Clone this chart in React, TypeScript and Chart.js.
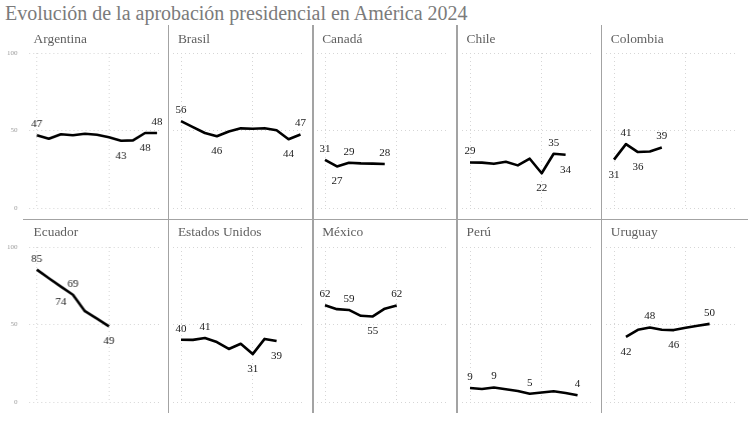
import React, { useEffect, useRef } from 'react';
import { Chart, registerables } from 'chart.js';

Chart.register(...registerables);

// ---------- data ----------
const chartTitle = 'Evolución de la aprobación presidencial en América 2024';
const months = ['ene', 'feb', 'mar', 'abr', 'may', 'jun', 'jul', 'ago', 'sep', 'oct', 'nov', 'dic'];
const gridMonths = ['ene', 'jul'];
const yTicks = [0, 50, 100];

const countries = ['Argentina', 'Brasil', 'Canadá', 'Chile', 'Colombia', 'Ecuador', 'Estados Unidos', 'México', 'Perú', 'Uruguay'];
const firstMonth = ['ene', 'ene', 'ene', 'ene', 'ene', 'ene', 'ene', 'ene', 'ene', 'feb'];

const argentina = [47, 44.7, 47.6, 46.9, 47.9, 47.3, 45.6, 43.4, 43.6, 48.4, 48.4];
const brasil = [56, 52.2, 48.4, 46.3, 49.4, 51.4, 51.1, 51.5, 50.2, 44.4, 47.4];
const canada = [31, 26.8, 29.2, 28.8, 28.6, 28.4];
const chile = [29.4, 29.3, 28.5, 29.8, 27.5, 31.8, 22.4, 35, 34.4];
const colombia = [31.2, 41.2, 36.1, 36.5, 39.1];
const ecuador = [85.4, 79.8, 74.4, 69.2, 58.6, 53.8, 48.8];
const estadosUnidos = [40.2, 40.1, 41.3, 38.7, 34.2, 37.6, 30.9, 40.7, 39.3];
const mexico = [62.4, 59.9, 59.4, 55.6, 55.2, 60.2, 62.3];
const peru = [9, 8.4, 9.4, 8.2, 7.1, 5.3, 6.1, 6.9, 5.8, 4.3];
const uruguay = [42, 46.6, 48.1, 46.6, 46.4, 47.9, 49.2, 50.4];

// labelled points: [index, side]
const argentinaMarks: [number, string][] = [[0, 'up'], [7, 'down'], [9, 'down'], [10, 'up']];
const brasilMarks: [number, string][] = [[0, 'up'], [3, 'down'], [9, 'down'], [10, 'up']];
const canadaMarks: [number, string][] = [[0, 'up'], [1, 'down'], [2, 'up'], [5, 'up']];
const chileMarks: [number, string][] = [[0, 'up'], [6, 'down'], [7, 'up'], [8, 'down']];
const colombiaMarks: [number, string][] = [[0, 'down'], [1, 'up'], [2, 'down'], [4, 'up']];
const ecuadorMarks: [number, string][] = [[0, 'up'], [2, 'down'], [3, 'up'], [6, 'down']];
const estadosUnidosMarks: [number, string][] = [[0, 'up'], [2, 'up'], [6, 'down'], [8, 'down']];
const mexicoMarks: [number, string][] = [[0, 'up'], [2, 'up'], [4, 'down'], [6, 'up']];
const peruMarks: [number, string][] = [[0, 'up'], [2, 'up'], [5, 'up'], [9, 'up']];
const uruguayMarks: [number, string][] = [[0, 'down'], [2, 'up'], [4, 'down'], [7, 'up']];

const seriesList = [argentina, brasil, canada, chile, colombia, ecuador, estadosUnidos, mexico, peru, uruguay];
const marksList = [argentinaMarks, brasilMarks, canadaMarks, chileMarks, colombiaMarks, ecuadorMarks, estadosUnidosMarks, mexicoMarks, peruMarks, uruguayMarks];

// ---------- layout ----------
const FONT = 'Georgia, "Liberation Serif", serif';
const COL_STEP = 144.3;
const JAN0 = 36.6; // x of January gridline in first column
const PX_PER_MONTH = 11.95;
const PLOT_L = 8; // px left of January
const PLOT_R = 124; // px right of January
const ROW_TOP = [53.3, 246.7]; // y of value 100
const PLOT_H = 155;
const PAD = 8;

function Panel({ idx }: { idx: number }) {
  const ref = useRef<HTMLCanvasElement | null>(null);
  const col = idx % 5;
  const row = Math.floor(idx / 5);
  const jan = JAN0 + COL_STEP * col;
  const plotLeft = jan - PLOT_L;
  const first = col === 0;
  const left = first ? 0 : plotLeft - PAD;
  const padLeft = first ? 0 : PAD;
  const yAxisW = first ? plotLeft : 0;
  const width = (first ? plotLeft : PAD) + PLOT_L + PLOT_R + PAD;
  const top = ROW_TOP[row] - PAD;
  const height = PLOT_H + 2 * PAD;

  useEffect(() => {
    if (!ref.current) return;
    const values = seriesList[idx];
    const marks = marksList[idx];
    const start = months.indexOf(firstMonth[idx]);
    const points = values.map((v, i) => ({ x: start + i, y: v }));

    const labelPlugin = {
      id: 'pointMarks',
      afterDatasetsDraw(chart: any) {
        const meta = chart.getDatasetMeta(0);
        const ctx = chart.ctx;
        ctx.save();
        ctx.font = `11px ${FONT}`;
        ctx.fillStyle = '#1a1a1a';
        ctx.textAlign = 'center';
        ctx.textBaseline = 'middle';
        marks.forEach(([i, side]) => {
          const el = meta.data[i];
          if (!el) return;
          const dy = side === 'up' ? -11 : 15;
          ctx.fillText(String(Math.round(values[i])), el.x, el.y + dy);
        });
        ctx.restore();
      },
    };

    const chart = new Chart(ref.current, {
      type: 'line',
      data: {
        datasets: [
          {
            label: countries[idx],
            data: points,
            borderColor: '#000',
            borderWidth: 2.6,
            pointRadius: 0,
            tension: 0,
            fill: false,
            borderJoinStyle: 'round',
          },
        ],
      },
      options: {
        animation: false,
        responsive: true,
        maintainAspectRatio: false,
        layout: { padding: { left: padLeft, right: PAD, top: PAD, bottom: PAD } },
        plugins: { legend: { display: false }, tooltip: { enabled: false }, title: { display: false } },
        scales: {
          x: {
            type: 'linear',
            min: -PLOT_L / PX_PER_MONTH,
            max: PLOT_R / PX_PER_MONTH,
            ticks: { display: false },
            grid: { color: '#d6d6d6', lineWidth: 1, drawTicks: false },
            border: { display: false, dash: [1, 3] },
            afterBuildTicks: (scale: any) => {
              scale.ticks = gridMonths.map((m) => ({ value: months.indexOf(m) }));
            },
            afterFit: (scale: any) => {
              scale.height = 0;
              scale.paddingLeft = 0;
              scale.paddingRight = 0;
            },
          },
          y: {
            type: 'linear',
            min: 0,
            max: 100,
            ticks: {
              display: first,
              stepSize: 50,
              padding: 11,
              color: '#9a9a9a',
              font: { size: 7, family: FONT },
            },
            grid: { color: '#d6d6d6', lineWidth: 1, drawTicks: false },
            border: { display: false, dash: [1, 3] },
            afterBuildTicks: (scale: any) => {
              scale.ticks = yTicks.map((v) => ({ value: v }));
            },
            afterFit: (scale: any) => {
              scale.width = yAxisW;
              scale.paddingTop = 0;
              scale.paddingBottom = 0;
            },
          },
        },
      },
      plugins: [labelPlugin],
    } as any);

    return () => chart.destroy();
  }, [idx]);

  return (
    <>
      <div style={{ position: 'absolute', left, top, width, height }}>
        <canvas ref={ref} />
      </div>
      <div
        style={{
          position: 'absolute',
          left: jan - 3,
          top: row === 0 ? 32 : 225.4,
          fontFamily: FONT,
          fontSize: 13.4,
          lineHeight: '14px',
          color: '#5f5f5f',
          whiteSpace: 'nowrap',
        }}
      >
        {countries[idx]}
      </div>
    </>
  );
}

export default function App() {
  const dividers = [1, 2, 3, 4].map((c) => JAN0 + COL_STEP * c - 12.3);
  return (
    <div style={{ position: 'fixed', left: 0, top: 0, width: 748, height: 422, background: '#fff', overflow: 'hidden' }}>
      <div
        style={{
          position: 'absolute',
          left: 5,
          top: 3,
          fontFamily: FONT,
          fontSize: 20,
          lineHeight: '20px',
          color: '#7b7b7b',
          whiteSpace: 'nowrap',
        }}
      >
        {chartTitle}
      </div>
      {dividers.map((x, i) => (
        <div key={'v' + i} style={{ position: 'absolute', left: x - 0.75, top: 25, width: 1.5, height: 388, background: '#a3a3a3' }} />
      ))}
      <div style={{ position: 'absolute', left: 23, top: 218.6, width: 725, height: 1.5, background: '#a3a3a3' }} />
      {countries.map((_, i) => (
        <Panel key={i} idx={i} />
      ))}
    </div>
  );
}
